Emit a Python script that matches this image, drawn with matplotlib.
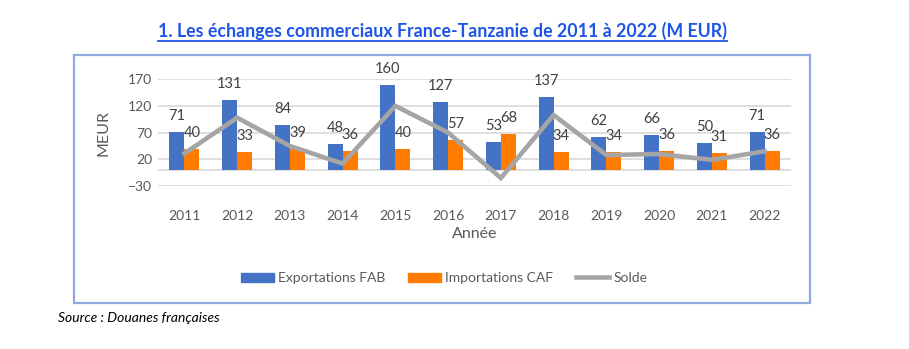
import numpy as np
import matplotlib.pyplot as plt
from matplotlib.patches import Rectangle
from matplotlib.lines import Line2D

# data
annees = ['2011', '2012', '2013', '2014', '2015', '2016', '2017', '2018', '2019', '2020', '2021', '2022']
exportations = [71, 131, 84, 48, 160, 127, 53, 137, 62, 66, 50, 71]
importations = [40, 33, 39, 36, 40, 57, 68, 34, 34, 36, 31, 36]
solde = [e - i for e, i in zip(exportations, importations)]
yticks = [-30, 20, 70, 120, 170]

plt.rcParams['font.family'] = ['Lato', 'DejaVu Sans']
txt = '#595959'

fig = plt.figure(figsize=(9.09, 3.49), dpi=100)
W, H = 909, 349

# outer chart frame
fig.patches.append(Rectangle((74 / W, 1 - 303 / H), (810 - 74) / W, (303 - 55) / H,
                             transform=fig.transFigure, fill=False,
                             edgecolor='#8FAADC', lw=1.6))

ax = fig.add_axes([158 / W, 1 - 186 / H, (791 - 158) / W, (186 - 79.3) / H])
x = np.arange(len(annees))
bw = 0.285

ax.bar(x - bw / 2, exportations, bw, color='#4472C4', zorder=2)
ax.bar(x + bw / 2, importations, bw, color='#FF7C00', zorder=2)
ax.plot(x, solde, color='#A5A5A5', lw=3.3, zorder=3, solid_joinstyle='miter')

for xi, v in zip(x, exportations):
    ax.annotate(str(v), (xi - bw / 2, v), xytext=(0, 11.5), textcoords='offset points',
                ha='center', va='center', fontsize=10.5, color='#404040')
for xi, v in zip(x, importations):
    ax.annotate(str(v), (xi + bw / 2, v), xytext=(0, 11.5), textcoords='offset points',
                ha='center', va='center', fontsize=10.5, color='#404040')

ax.set_xlim(-0.5, len(annees) - 0.5)
ax.set_ylim(-30, 170)
ax.set_yticks(yticks)
ax.set_xticks(x)
ax.set_xticklabels(annees)
for y in yticks + [0]:
    ax.axhline(y, color='#D9D9D9', lw=1.2, zorder=1)
for s in ax.spines.values():
    s.set_visible(False)
ax.tick_params(length=0, labelsize=10, labelcolor=txt)
ax.tick_params(axis='x', pad=17)
ax.tick_params(axis='y', pad=4)
ax.set_xlabel('Année', fontsize=11.5, color=txt, labelpad=4)
ax.set_ylabel('MEUR', fontsize=11.5, color=txt, labelpad=13)

handles = [Rectangle((0, 0), 1, 1, color='#4472C4'),
           Rectangle((0, 0), 1, 1, color='#FF7C00'),
           Line2D([0], [0], color='#A5A5A5', lw=3.3)]
leg = fig.legend(handles, ['Exportations FAB', 'Importations CAF', 'Solde'],
                 loc='center', bbox_to_anchor=(444 / W, 1 - 278 / H), ncol=3,
                 frameon=False, fontsize=10, handlelength=2.4, handleheight=0.6,
                 handletextpad=0.3, columnspacing=1.6)
for t in leg.get_texts():
    t.set_color(txt)

# title (underlined)
title = fig.text(442 / W, 1 - 31 / H, '1. Les échanges commerciaux France-Tanzanie de 2011 à 2022 (M EUR)',
                 ha='center', va='center', fontsize=12.8, fontweight='bold', color='#1F55E6')
fig.canvas.draw()
bb = title.get_window_extent().transformed(fig.transFigure.inverted())
fig.add_artist(Line2D([bb.x0, bb.x1], [bb.y0 - 0.004, bb.y0 - 0.004], transform=fig.transFigure,
                      color='#1F55E6', lw=1.3))

fig.text(58 / W, 1 - 318 / H, 'Source : Douanes françaises', ha='left', va='center',
         fontsize=10, style='italic', color='black')

fig.savefig('out.png', dpi=100)
